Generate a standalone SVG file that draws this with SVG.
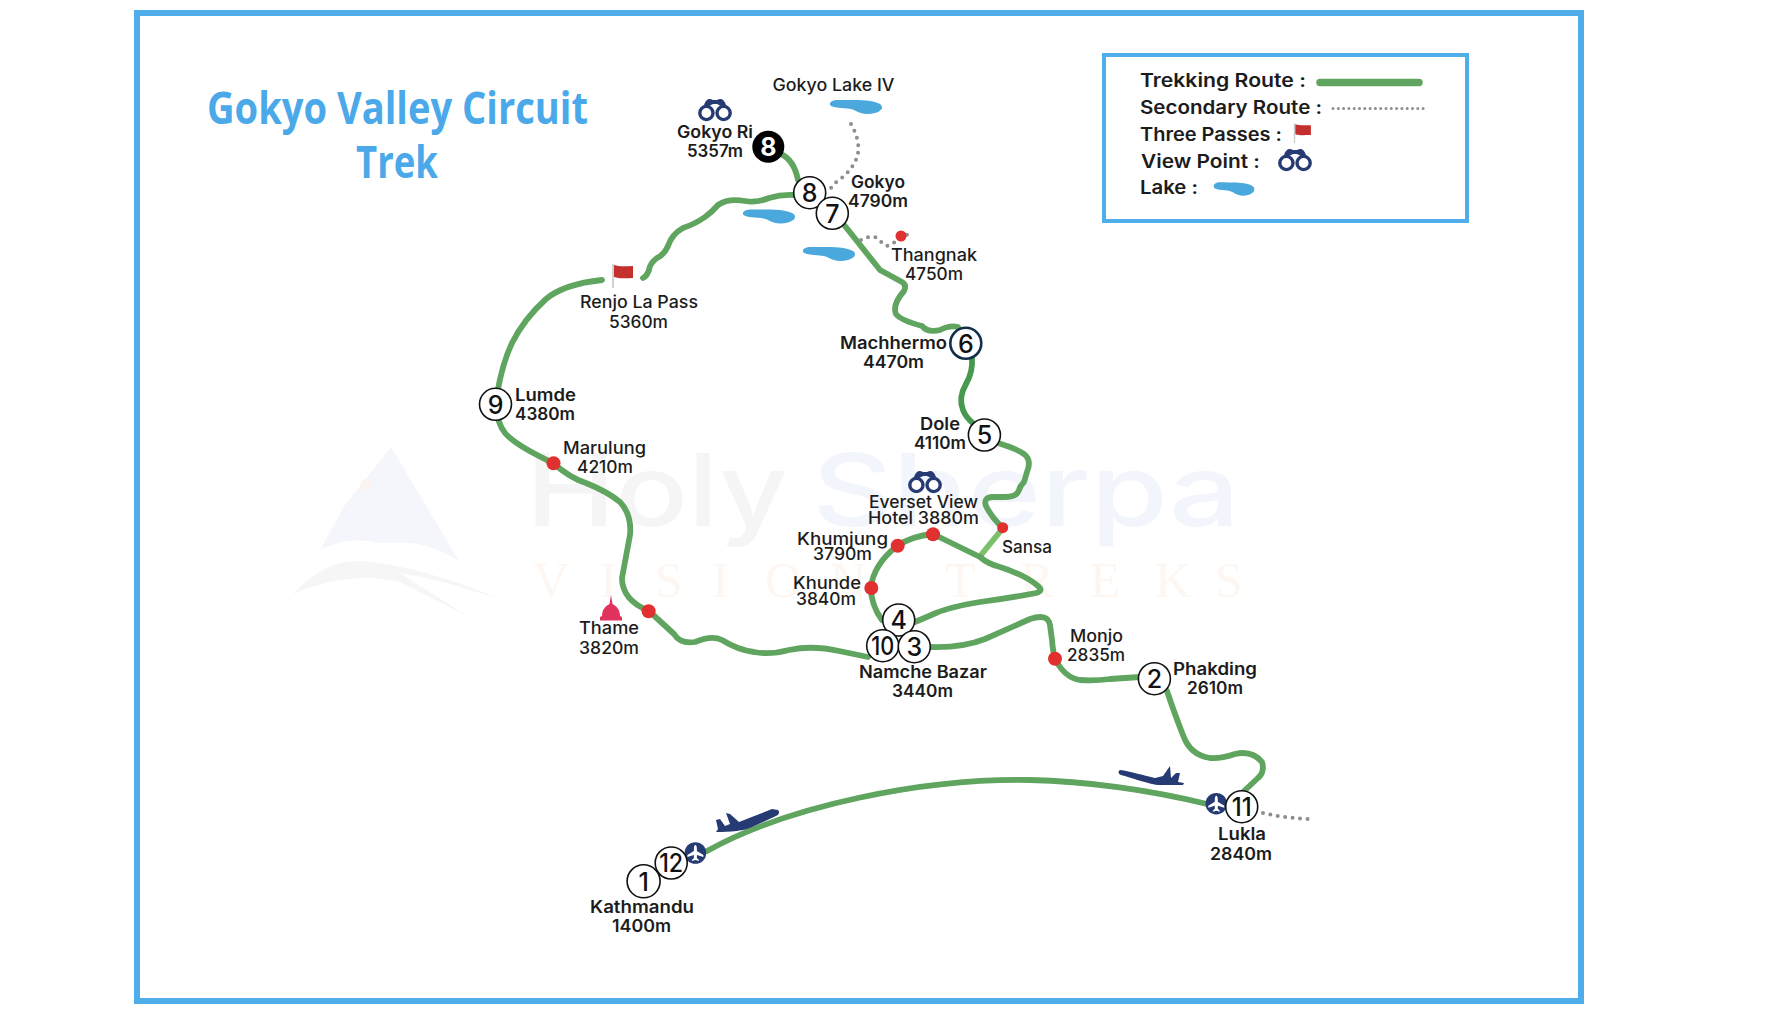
<svg xmlns="http://www.w3.org/2000/svg" width="1766" height="1022" viewBox="0 0 1766 1022">
<style>
text{font-family:"Inter","Noto Sans",sans-serif;font-size:17px;font-weight:500;fill:#1c1c1c}
.b{font-weight:600}
.lg{font-size:18.5px;font-weight:600}
.title{font-family:"Open Sans","Noto Sans",sans-serif;font-size:44px;font-weight:700;fill:#4BA9E9}
.num{font-family:"Inter",sans-serif;font-size:25px;font-weight:500;text-anchor:middle;fill:#111}
.stop{fill:#fff;stroke:#111;stroke-width:1.6}
.red{fill:#E0302F}
.route{fill:none;stroke:#5FA55F;stroke-width:5.8;stroke-linecap:round;stroke-linejoin:round}
.dots{fill:none;stroke:#8E8E92;stroke-width:4;stroke-linecap:round;stroke-dasharray:0 7.5}
.wm1{font-family:"Inter",sans-serif;font-size:100px;font-weight:500;fill:#F5F5F6}
.wm2{font-family:"Inter",sans-serif;font-size:100px;font-weight:500;fill:#F2F5FB}
.wm3{font-family:"Liberation Serif",serif;font-size:50px;font-weight:400;fill:#FDF6F1}
</style>
<defs>
<g id="bino">
<path d="M-11,-5 C-9,-11 -6,-12 -2,-10 L2,-10 C6,-12 9,-11 11,-5 L6,-4 L2,-6 L-2,-6 L-6,-4 Z" fill="#263A73"/>
<circle cx="-8.6" cy="3" r="6.6" fill="#fff" stroke="#263A73" stroke-width="3.4"/>
<circle cx="8.6" cy="3" r="6.6" fill="#fff" stroke="#263A73" stroke-width="3.4"/>
</g>
<path id="lake" d="M1,4 C3,0 10,1 20,1 C32,1 44,1 51,5 C55,8 53,12 46,14 C38,16 32,15 25,11 C18,8 4,10 1,6 Z" fill="#4BA8DC"/>
<g id="flag">
<path d="M0,0 V24" stroke="#C9C9C9" stroke-width="1.6" fill="none"/>
<path d="M1,1 C7,3 13,2 20,2 V14 C13,14 7,15 1,13 Z" fill="#C5302F"/>
</g>
<g id="airport">
<circle r="10.8" fill="#263A73"/>
<path d="M0,-8 C1,-8 1.5,-6 1.5,-4 L1.5,-2 L8,2 L8,4 L1.5,2 L1.5,5 L3.5,7 L3.5,8 L0,7 L-3.5,8 L-3.5,7 L-1.5,5 L-1.5,2 L-8,4 L-8,2 L-1.5,-2 L-1.5,-4 C-1.5,-6 -1,-8 0,-8Z" fill="#fff"/>
</g>
</defs>
<rect width="1766" height="1022" fill="#fff"/>
<g id="watermark">
<path d="M391,447 L459,561 Q425,540 398,543 L378,543 L360,511 L345,505 Z" fill="#F4F6FB"/>
<path d="M345,505 L320,550 Q350,535 378,543 L360,511 Z" fill="#F4F6FB"/>
<circle cx="366" cy="485" r="6" fill="#FBF4EE"/>
<path d="M293,594 Q325,559 362,561 Q420,566 498,598 L470,590 Q440,580 400,573 L467,616 L400,582 Q350,570 293,594 Z" fill="#F6F6F6"/>
<text class="wm1" x="526" y="526" textLength="262" lengthAdjust="spacingAndGlyphs">Holy</text>
<text class="wm2" x="812" y="526" textLength="428" lengthAdjust="spacingAndGlyphs">Sherpa</text>
<text class="wm3" x="533 600 655 712 765 830" y="597">VISION</text>
<text class="wm3" x="945 1020 1090 1155 1215" y="597">TREKS</text>
</g>
<rect id="frame" x="137" y="13" width="1444" height="988" fill="none" stroke="#4FADEA" stroke-width="6"/>
<g id="title">
<text class="title" x="207" y="123.5" textLength="381" lengthAdjust="spacingAndGlyphs">Gokyo Valley Circuit</text>
<text class="title" x="356" y="177.5" textLength="82" lengthAdjust="spacingAndGlyphs">Trek</text>
</g>
<g id="legend">
<rect x="1104" y="55" width="363" height="166" fill="none" stroke="#4FADEA" stroke-width="4"/>
<text class="lg" x="1140" y="87" textLength="166" lengthAdjust="spacingAndGlyphs">Trekking Route :</text>
<path d="M1320,82.5 H1419" class="route" style="stroke-width:7.5"/>
<text class="lg" x="1140" y="114" textLength="182" lengthAdjust="spacingAndGlyphs">Secondary Route :</text>
<path d="M1333,108.5 H1428" fill="none" stroke="#8E8E92" stroke-width="3" stroke-linecap="round" stroke-dasharray="0 5.3"/>
<text class="lg" x="1140" y="141" textLength="142" lengthAdjust="spacingAndGlyphs">Three Passes :</text>
<use href="#flag" transform="translate(1294.5,123.5) scale(.82)"/>
<text class="lg" x="1141" y="167.5" textLength="119" lengthAdjust="spacingAndGlyphs">View Point :</text>
<use href="#bino" transform="translate(1295,160)"/>
<text class="lg" x="1140" y="193.5" textLength="58" lengthAdjust="spacingAndGlyphs">Lake :</text>
<use href="#lake" transform="translate(1213,181.5) scale(.78,.95)"/>
</g>
<g id="connectors">
<path class="route" d="M781,154 Q794,160 798,180"/>
<path class="route" d="M795,195 Q782,194 769,198 Q757,203 745,201 Q728,198 718,205 Q712,212 705,217 Q695,224 683,228 Q672,234 668,246 Q664,255 657,258 Q650,263 649,270 Q647,276 643,278"/>
<path class="route" d="M602,280 Q564,284 546,299 Q524,319 512,343 Q502,364 497,395 L496,405 Q497,423 505,433 Q515,445 553,463 Q570,478 586,483 Q608,492 620,502 Q632,515 630,535 L622,578 Q622,600 649,611 L674,634 Q680,644 695,642 Q712,635 722,640 Q738,650 754,652 Q770,655 789,650 Q812,645 839,651 L868,657"/>
<path class="route" d="M845,226 L880,270 L902,282 Q907,285 904,291 Q892,305 896,314 Q900,320 922,326 Q928,333 940,330 Q950,325 958,327"/>
<path class="route" d="M972,358 Q973,372 966,384 Q958,398 963,410 Q966,418 975,425" style="stroke:#47994F"/>
<path class="route" d="M998,443 Q1015,448 1024,454 Q1032,460 1027,472 L1024,482 Q1020,486 1019,490 Q1017,497 1005,497 L992,497 Q983,498 986,506 Q992,518 1003,528"/>
<path class="route" d="M1003,528 L981,555" style="stroke:#7CC06C"/>
<path class="route" d="M933,534 L980,557 Q988,564 1000,567 Q1025,575 1038,586 Q1044,591 1036,593 Q1010,598 980,602 Q950,607 936,613 L915,622"/>
<path class="route" d="M882,620 Q871,605 871,588 Q873,565 897,546 Q912,536 933,534"/>
<path class="route" d="M931,647 Q962,648 985,639 Q1010,628 1030,619 Q1048,613 1050,625 L1052,640 Q1053,652 1055,659 Q1065,678 1080,680 Q1095,681 1110,679 L1140,677"/>
<path class="route" d="M1167,691 Q1175,715 1183,735 Q1190,755 1210,758 Q1220,759 1235,754 Q1252,750 1262,762 Q1265,772 1258,778 L1243,792"/>
<path class="route" d="M707,851 C790,805 925,778 1030,780 C1085,781 1150,790 1207,804"/>
<path class="dots" d="M851,124 Q860,140 858,153 Q856,165 843,177 Q832,184 828,193"/>
<path class="dots" d="M861,240 Q868,236 875,237 Q882,243 887,246 Q900,240 912,231"/>
<path class="dots" d="M1263,813 Q1285,818 1308,819"/>
</g>
<g id="lake-iv"><use href="#lake" transform="translate(829,99)"/></g>
<g id="lake-2"><use href="#lake" transform="translate(742,208.5)"/></g>
<g id="lake-3"><use href="#lake" transform="translate(802,246)"/></g>
<g id="renjo-la"><use href="#flag" transform="translate(613,264)"/><text x="580" y="308" textLength="118" lengthAdjust="spacingAndGlyphs">Renjo La Pass</text><text x="609" y="328" textLength="59" lengthAdjust="spacingAndGlyphs">5360m</text></g>
<g id="gokyo-lake-label"><text x="772.5" y="91" textLength="122" lengthAdjust="spacingAndGlyphs">Gokyo Lake IV</text></g>
<g id="gokyo-ri"><use href="#bino" transform="translate(715,110)"/><text class="b" x="677" y="138" textLength="76" lengthAdjust="spacingAndGlyphs">Gokyo Ri</text><text class="b" x="687" y="157" textLength="56" lengthAdjust="spacingAndGlyphs">5357m</text><circle cx="768.3" cy="146.7" r="16" fill="#000"/><text class="num" x="768.3" y="156" style="fill:#fff;font-weight:700">8</text></g>
<g id="stop-8"><circle class="stop" cx="809.7" cy="192.7" r="16"/><text class="num" x="809.7" y="202">8</text></g>
<g id="stop-7"><circle class="stop" cx="832.3" cy="213.3" r="16"/><text class="num" x="832.3" y="222.5">7</text><text class="b" x="851" y="187.5" textLength="54" lengthAdjust="spacingAndGlyphs">Gokyo</text><text class="b" x="848" y="206.5" textLength="60" lengthAdjust="spacingAndGlyphs">4790m</text></g>
<g id="thangnak"><circle class="red" cx="901" cy="236" r="5.5"/><text x="891" y="260.5" textLength="86" lengthAdjust="spacingAndGlyphs">Thangnak</text><text x="905" y="279.5" textLength="58" lengthAdjust="spacingAndGlyphs">4750m</text></g>
<g id="stop-6"><circle cx="965.8" cy="343.3" r="15.5" fill="#fff" stroke="#12304A" stroke-width="2.6"/><text class="num" x="965.8" y="352.5">6</text><text class="b" x="840" y="349" textLength="107" lengthAdjust="spacingAndGlyphs">Machhermo</text><text class="b" x="863" y="368" textLength="61" lengthAdjust="spacingAndGlyphs">4470m</text></g>
<g id="stop-5"><circle class="stop" cx="984.4" cy="435" r="16"/><text class="num" x="984.4" y="444">5</text><text class="b" x="920" y="430" textLength="40" lengthAdjust="spacingAndGlyphs">Dole</text><text class="b" x="914" y="449" textLength="52" lengthAdjust="spacingAndGlyphs">4110m</text></g>
<g id="stop-9"><circle class="stop" cx="495.5" cy="404.3" r="16"/><text class="num" x="495.5" y="413.5">9</text><text class="b" x="515" y="401" textLength="61" lengthAdjust="spacingAndGlyphs">Lumde</text><text class="b" x="515" y="420" textLength="60" lengthAdjust="spacingAndGlyphs">4380m</text></g>
<g id="marulung"><circle class="red" cx="553.5" cy="463.3" r="7"/><text x="563" y="454" textLength="83" lengthAdjust="spacingAndGlyphs">Marulung</text><text x="577" y="472.5" textLength="56" lengthAdjust="spacingAndGlyphs">4210m</text></g>
<g id="thame"><path d="M611,595 L612.5,604 C616,606 620,609 620,616 L622,617 V620.5 H600 V617 L602,616 C602,609 606,606 609.5,604 Z" fill="#E0325F"/><circle class="red" cx="648.6" cy="611.3" r="7"/><text x="579" y="634" textLength="60" lengthAdjust="spacingAndGlyphs">Thame</text><text x="579" y="653.5" textLength="60" lengthAdjust="spacingAndGlyphs">3820m</text></g>
<g id="everest-view"><use href="#bino" transform="translate(925,482)"/><circle class="red" cx="933" cy="534.3" r="7"/><text x="869" y="508" textLength="109" lengthAdjust="spacingAndGlyphs">Everset View</text><text x="868" y="523.5" textLength="111" lengthAdjust="spacingAndGlyphs">Hotel 3880m</text></g>
<g id="khumjung"><circle class="red" cx="897.7" cy="545.7" r="7"/><text x="797" y="544.5" textLength="91" lengthAdjust="spacingAndGlyphs">Khumjung</text><text x="813" y="560" textLength="59" lengthAdjust="spacingAndGlyphs">3790m</text></g>
<g id="khunde"><circle class="red" cx="871.3" cy="588" r="7"/><text x="793" y="589" textLength="68" lengthAdjust="spacingAndGlyphs">Khunde</text><text x="796" y="604.5" textLength="60" lengthAdjust="spacingAndGlyphs">3840m</text></g>
<g id="sansa"><circle class="red" cx="1002.7" cy="527.7" r="5.5"/><text x="1002" y="552.5" textLength="50" lengthAdjust="spacingAndGlyphs">Sansa</text></g>
<g id="stop-4"><circle class="stop" cx="898.7" cy="620" r="16"/><text class="num" x="898.7" y="629">4</text></g>
<g id="stop-10"><circle class="stop" cx="882.7" cy="645.7" r="16"/><text class="num" x="882.7" y="655" textLength="23" lengthAdjust="spacingAndGlyphs">10</text></g>
<g id="stop-3"><circle class="stop" cx="914.3" cy="646.7" r="16"/><text class="num" x="914.3" y="656">3</text><text class="b" x="859" y="677.5" textLength="128" lengthAdjust="spacingAndGlyphs">Namche Bazar</text><text class="b" x="892" y="697" textLength="61" lengthAdjust="spacingAndGlyphs">3440m</text></g>
<g id="monjo"><circle class="red" cx="1055" cy="658.7" r="7"/><text x="1070" y="642" textLength="53" lengthAdjust="spacingAndGlyphs">Monjo</text><text x="1067" y="661" textLength="58" lengthAdjust="spacingAndGlyphs">2835m</text></g>
<g id="stop-2"><circle class="stop" cx="1154.4" cy="678.7" r="16"/><text class="num" x="1154.4" y="688">2</text><text class="b" x="1173" y="674.5" textLength="84" lengthAdjust="spacingAndGlyphs">Phakding</text><text class="b" x="1187" y="693.5" textLength="56" lengthAdjust="spacingAndGlyphs">2610m</text></g>
<g id="lukla-airport"><use href="#airport" transform="translate(1216.3,803.7)"/></g>
<g id="stop-11"><circle class="stop" cx="1241.7" cy="806.7" r="16"/><text class="num" x="1241.7" y="816" textLength="20" lengthAdjust="spacingAndGlyphs">11</text><text class="b" x="1218" y="840" textLength="48" lengthAdjust="spacingAndGlyphs">Lukla</text><text class="b" x="1210" y="859.5" textLength="62" lengthAdjust="spacingAndGlyphs">2840m</text></g>
<g id="kathmandu-airport"><use href="#airport" transform="translate(695.4,853)"/></g>
<g id="stop-12"><circle class="stop" cx="671.2" cy="863" r="16"/><text class="num" x="671.2" y="872" textLength="24" lengthAdjust="spacingAndGlyphs">12</text></g>
<g id="stop-1"><circle class="stop" cx="643.6" cy="881.3" r="16.5"/><text class="num" x="643.6" y="890.5">1</text><text class="b" x="590" y="913" textLength="104" lengthAdjust="spacingAndGlyphs">Kathmandu</text><text class="b" x="612" y="932" textLength="59" lengthAdjust="spacingAndGlyphs">1400m</text></g>
<g id="plane-out"><path d="M778,810 C780,812 779,815 776,816 L752,827 C745,831 730,832 716,832 L718,829 L716,820 L720,819 L725,826 L730,824 L726,813 L730,814 L739,822 L772,809 Z" fill="#263A73"/></g>
<g id="plane-in"><path d="M1120,770 C1130,771 1145,776 1155,778 L1163,776 L1170,766 L1171,778 L1176,773 L1180,773 L1178,782 L1184,783 L1183,785 L1160,785 C1150,785 1130,777 1121,775 C1118,774 1118,771 1120,770 Z" fill="#263A73"/></g>
</svg>
